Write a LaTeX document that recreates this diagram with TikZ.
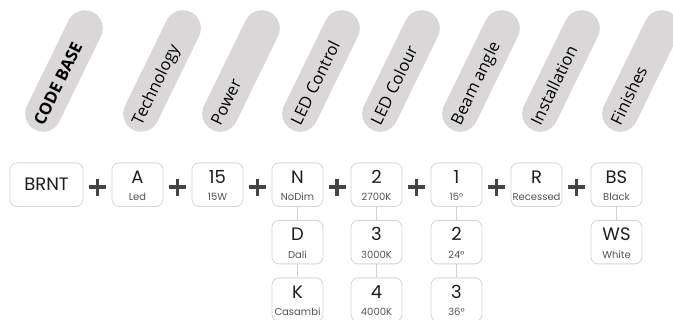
\documentclass[tikz,border=0pt]{standalone}
\usepackage{fontspec}
\setmainfont{Poppins}
\newfontfamily\pillfont{Open Sans}
\usetikzlibrary{calc}
\definecolor{pillgray}{HTML}{D9D7D7}
\definecolor{boxline}{HTML}{D6D6D6}
\definecolor{linkgray}{HTML}{D0D0D0}
\definecolor{plusgray}{HTML}{444444}
\definecolor{maintext}{HTML}{1E1E1E}
\definecolor{subtext}{HTML}{555555}
\tikzset{
  pillshape/.style={rectangle, rotate=64, minimum width=131pt, minimum height=36pt,
    rounded corners=18pt, fill=pillgray, inner sep=0pt},
  pilltext/.style={rotate=64, anchor=west, inner sep=0pt, text height=11.8pt, text depth=0pt,
    font=\pillfont\fontsize{16.5}{16.5}\selectfont, text=black},
  obox/.style={rectangle, draw=boxline, line width=0.8pt, rounded corners=7pt, fill=white,
    minimum width=51pt, minimum height=43.5pt, inner sep=0pt},
  maintxt/.style={anchor=base, inner sep=0pt, text=maintext, font=\fontsize{18}{18}\selectfont},
  subtxt/.style={anchor=base, inner sep=0pt, text=subtext, font=\fontsize{10}{10}\selectfont},
  link/.style={draw=linkgray, line width=0.9pt},
  plusline/.style={draw=plusgray, line width=3.3pt},
  plussign/.pic={\draw[plusline] (-8.5,0) -- (8.5,0) (0,-8.5) -- (0,8.5);}
}
\newcommand\pillitem[4]{% x, name, font extra, text
  \node[pillshape] (#2) at (#1,71) {};
  \node[pilltext] at ($(#2.west)!7pt!(#2.east)$) {#3#4};
}
\newcommand\optbox[5]{% name, x, y-top, main, sub
  \node[obox, anchor=north] (#1) at (#2,#3) {};
  \node[maintxt] (#1m) at ($(#1.north)+(0,21)$) {#4};
  \node[subtxt] (#1s) at ($(#1.north)+(0,38.5)$) {#5};
}
\begin{document}
\begin{tikzpicture}[x=1pt,y=-1pt]
\useasboundingbox[fill=white] (0,0) rectangle (673,320);
% header pills
\pillitem{64}{p0}{\bfseries}{CODE BASE}
\pillitem{162}{p1}{}{Technology}
\pillitem{241}{p2}{}{Power}
\pillitem{321}{p3}{}{LED Control}
\pillitem{401}{p4}{}{LED Colour}
\pillitem{481}{p5}{}{Beam angle}
\pillitem{561}{p6}{}{Installation}
\pillitem{641}{p7}{}{Finishes}
% code base box
\node[obox, anchor=north, minimum width=73pt] (brnt) at (46.5,162.5) {};
\node[maintxt, anchor=center] (brntm) at (brnt.center) {BRNT};
% first row
\optbox{a}{137.5}{162.5}{A}{Led}
\optbox{w}{217.5}{162.5}{15}{15W}
\optbox{n}{297.5}{162.5}{N}{NoDim}
\optbox{c2}{376.5}{162.5}{2}{2700K}
\optbox{b1}{456.5}{162.5}{1}{15°}
\optbox{r}{536.5}{162.5}{R}{Recessed}
\optbox{bs}{616.5}{162.5}{BS}{Black}
% second row
\optbox{d}{297.5}{220}{D}{Dali}
\optbox{c3}{376.5}{220}{3}{3000K}
\optbox{b2}{456.5}{220}{2}{24°}
\optbox{ws}{616.5}{220}{WS}{White}
% third row
\optbox{k}{297.5}{277.5}{K}{Casambi}
\optbox{c4}{376.5}{277.5}{4}{4000K}
\optbox{b3}{456.5}{277.5}{3}{36°}
% vertical links
\draw[link] (n) -- (d);
\draw[link] (d) -- (k);
\draw[link] (c2) -- (c3);
\draw[link] (c3) -- (c4);
\draw[link] (b1) -- (b2);
\draw[link] (b2) -- (b3);
\draw[link] (bs) -- (ws);
% plus signs
\foreach \l/\r in {brnt/a, a/w, w/n, n/c2, c2/b1, b1/r, r/bs}{
  \path ($(\l.east)!0.5!(\r.west)+(0,2.5)$) pic {plussign};
}
\end{tikzpicture}
\end{document}
